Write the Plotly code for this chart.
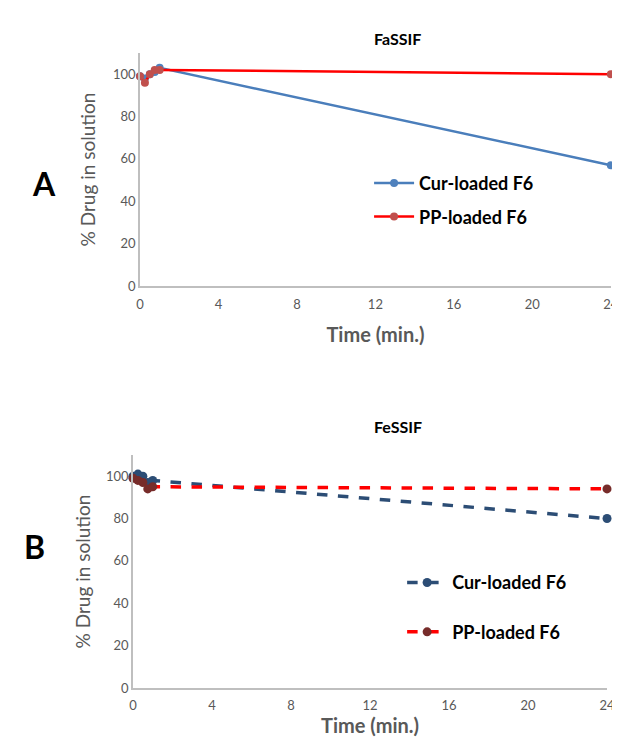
import plotly.graph_objects as go

# ---- data ----
time_min = [0, 0.25, 0.5, 0.75, 1, 24]
fassif_cur = [99, 98, 100, 101, 103, 57]
fassif_pp = [99, 96, 100, 102, 102, 100]
fessif_cur = [100, 101, 100, 97, 98, 80]
fessif_pp = [99, 98, 97, 94, 95, 94]
x_ticks = [0, 4, 8, 12, 16, 20, 24]
y_ticks = [0, 20, 40, 60, 80, 100]

GRAY = "#595959"
AXIS = "#BFBFBF"
FONT = "Lato, 'Open Sans', sans-serif"

fig = go.Figure()

# Top (FaSSIF)
fig.add_trace(go.Scatter(x=time_min, y=fassif_cur, mode="lines+markers", name="Cur-loaded F6",
                         line=dict(color="#4A7EBB", width=2.5), marker=dict(color="#4F81BD", size=8),
                         cliponaxis=False, legendgroup="a1",
                         xaxis="x", yaxis="y", legend="legend"))
fig.add_trace(go.Scatter(x=time_min, y=fassif_pp, mode="lines+markers", name="PP-loaded F6",
                         line=dict(color="#FF0000", width=2.5), marker=dict(color="#C0504D", size=8),
                         cliponaxis=False, legendgroup="a2",
                         xaxis="x", yaxis="y", legend="legend"))
# Bottom (FeSSIF)
fig.add_trace(go.Scatter(x=time_min, y=fessif_cur, mode="lines+markers", name="Cur-loaded F6",
                         line=dict(color="#2C4D75", width=3.5, dash="dash"), marker=dict(color="#2C4D75", size=9),
                         cliponaxis=False, legendgroup="b1",
                         xaxis="x2", yaxis="y2", legend="legend2"))
fig.add_trace(go.Scatter(x=time_min, y=fessif_pp, mode="lines+markers", name="PP-loaded F6",
                         line=dict(color="#FF0000", width=3.5, dash="dash"), marker=dict(color="#772C2A", size=9),
                         cliponaxis=False, legendgroup="b2",
                         xaxis="x2", yaxis="y2", legend="legend2"))

axis_common = dict(showgrid=False, zeroline=False, showline=True, linecolor=AXIS, linewidth=1.5,
                   ticks="", automargin=False, tickfont=dict(family=FONT, size=13, color=GRAY))

W, H = 612, 738  # page body adds an 8px offset

fig.update_layout(
    width=W, height=H,
    margin=dict(l=0, r=0, t=0, b=0, autoexpand=False),
    paper_bgcolor="white", plot_bgcolor="white",
    font=dict(family=FONT),
    xaxis=dict(domain=[0.2157, 0.985], range=[0, 24], tickvals=x_ticks, anchor="y", ticklabelstandoff=6,
               title=dict(text="<b>Time (min.)</b>", font=dict(family=FONT, size=20, color=GRAY), standoff=17),
               **axis_common),
    yaxis=dict(domain=[0.6233, 0.939], range=[0, 110], tickvals=y_ticks, anchor="x",
               title=dict(text="% Drug in solution", font=dict(family=FONT, size=19, color=GRAY), standoff=12),
               **axis_common),
    xaxis2=dict(domain=[0.2042, 0.9788], range=[0, 24], tickvals=x_ticks, anchor="y2", ticklabelstandoff=5,
                title=dict(text="<b>Time (min.)</b>", font=dict(family=FONT, size=20, color=GRAY), standoff=1),
                **axis_common),
    yaxis2=dict(domain=[0.0786, 0.3943], range=[0, 110], tickvals=y_ticks, anchor="x2",
                title=dict(text="% Drug in solution", font=dict(family=FONT, size=19, color=GRAY), standoff=10),
                **axis_common),
    legend=dict(x=0.59, y=0.74, xanchor="left", yanchor="middle", bgcolor="rgba(0,0,0,0)",
                font=dict(family=FONT, size=18, color="black", weight="bold"), tracegroupgap=7,
                itemwidth=40),
    legend2=dict(x=0.644, y=0.188, xanchor="left", yanchor="middle", bgcolor="rgba(0,0,0,0)",
                 font=dict(family=FONT, size=18, color="black", weight="bold"), tracegroupgap=23,
                 itemwidth=40),
    annotations=[
        dict(text="<b>FaSSIF</b>", x=0.637, y=0.974, xref="paper", yref="paper",
             showarrow=False, font=dict(family=FONT, size=16, color="black")),
        dict(text="<b>FeSSIF</b>", x=0.637, y=0.4336, xref="paper", yref="paper",
             showarrow=False, font=dict(family=FONT, size=16, color="black")),
        dict(text="<b>A</b>", x=0.036, y=0.7913, xref="paper", yref="paper",
             showarrow=False, font=dict(family=FONT, size=32, color="black")),
        dict(text="<b>B</b>", x=0.0229, y=0.2412, xref="paper", yref="paper",
             showarrow=False, font=dict(family=FONT, size=32, color="black")),
    ],
)

fig.write_html("out.html")
